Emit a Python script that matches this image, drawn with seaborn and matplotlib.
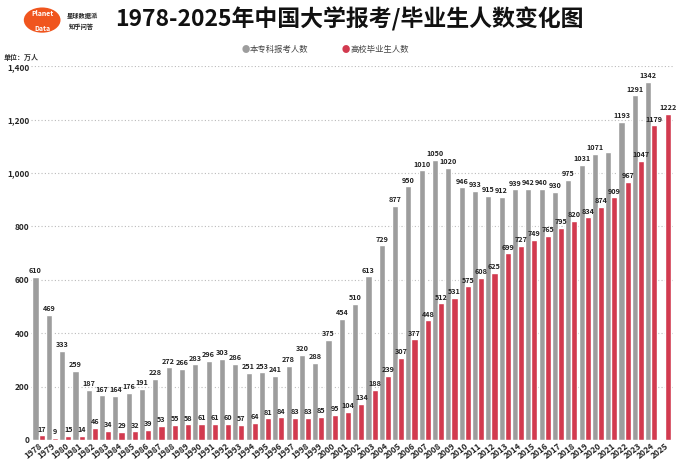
import matplotlib
matplotlib.use('Agg')
import matplotlib.pyplot as plt
import numpy as np
import pandas as pd
import seaborn as sns
from matplotlib.patches import Circle
from matplotlib.ticker import FuncFormatter

# データ
years = list(range(1978, 2026))
exam = [610, 469, 333, 259, 187, 167, 164, 176, 191, 228,
        272, 266, 283, 296, 303, 286, 251, 253, 241, 278,
        320, 288, 375, 454, 510, 613, 729, 877, 950, 1010,
        1050, 1020, 946, 933, 915, 912, 939, 942, 940, 930,
        975, 1031, 1071, 1078, 1193, 1291, 1342, np.nan]
grad = [17, 9, 15, 14, 46, 34, 29, 32, 39, 53,
        55, 58, 61, 61, 60, 57, 64, 81, 84, 83,
        83, 85, 95, 104, 134, 188, 239, 307, 377, 448,
        512, 531, 575, 608, 625, 699, 727, 749, 765, 795,
        820, 834, 874, 909, 967, 1047, 1179, 1222]
# 2021年の報考人数はラベル無し
exam_hidden = [2021]

s_exam = '本专科报考人数'
s_grad = '高校毕业生人数'
gray = '#9d9d9d'
red = '#d23a4f'

df = pd.DataFrame({
    'year': [str(y) for y in years] * 2,
    'value': exam + grad,
    'series': [s_exam] * len(years) + [s_grad] * len(years),
})
df['label'] = [('' if (pd.isna(v) or (s == s_exam and int(y) in exam_hidden)) else f'{int(v)}')
               for y, v, s in zip(df['year'], df['value'], df['series'])]
df = df.dropna(subset=['value'])

sns.set_theme(style='white')
plt.rcParams['font.family'] = ['Noto Sans CJK SC', 'DejaVu Sans']

fig = plt.figure(figsize=(6.8, 4.67), dpi=100)
ax = fig.add_axes([0.045, 0.058, 0.945, 0.80])

sns.barplot(data=df, x='year', y='value', hue='series',
            order=[str(y) for y in years], hue_order=[s_exam, s_grad],
            palette={s_exam: gray, s_grad: red}, width=0.92,
            saturation=1, legend=False, ax=ax)

# 数値ラベル
for cont, s in zip(ax.containers, [s_exam, s_grad]):
    labels = df.loc[df['series'] == s, 'label'].tolist()
    ax.bar_label(cont, labels=labels, fontsize=5.2, fontweight='bold',
                 color='#222222', padding=2)

ax.set_ylim(0, 1400)
ax.set_xlim(-0.6, len(years) - 0.35)
ax.set_yticks(range(0, 1401, 200))
ax.yaxis.set_major_formatter(FuncFormatter(lambda v, p: f'{int(v):,}'))
ax.grid(axis='y', linestyle=(0, (1, 2)), color='#bbbbbb', linewidth=0.8)
ax.set_axisbelow(True)
for sp in ax.spines.values():
    sp.set_visible(False)
ax.set_xlabel('')
ax.set_ylabel('')
ax.tick_params(axis='y', labelsize=6, pad=1, length=0)
ax.tick_params(axis='x', labelsize=6, pad=1, length=0)
for lab in ax.get_yticklabels():
    lab.set_fontweight('bold')
for lab in ax.get_xticklabels():
    lab.set_rotation(38)
    lab.set_ha('right')
    lab.set_rotation_mode('anchor')
    lab.set_fontweight('bold')

# 凡例
fig.text(0.355, 0.895, '●', color=gray, fontsize=6, ha='left', va='center')
fig.text(0.367, 0.895, s_exam, color='#444444', fontsize=6, ha='left', va='center')
fig.text(0.503, 0.895, '●', color=red, fontsize=6, ha='left', va='center')
fig.text(0.515, 0.895, s_grad, color='#444444', fontsize=6, ha='left', va='center')

# タイトル
fig.text(0.17, 0.958, '1978-2025年中国大学报考/毕业生人数变化图',
         fontsize=16.5, fontweight='bold', ha='left', va='center', color='#111111')

# ロゴ
logo = Circle((0.062, 0.957), 0.027, transform=fig.transFigure,
              facecolor='#f0551e', edgecolor='none')
fig.add_artist(logo)
fig.text(0.062, 0.972, 'Planet', color='white', fontsize=5, fontweight='bold',
         ha='center', va='center')
fig.text(0.062, 0.94, 'Data', color='white', fontsize=5, fontweight='bold',
         ha='center', va='center')
fig.text(0.098, 0.966, '星球数据派', fontsize=4.5, fontweight='bold', ha='left', va='center')
fig.text(0.101, 0.944, '知乎问答', fontsize=4.5, fontweight='bold', ha='left', va='center')

fig.text(0.006, 0.876, '单位：万人', fontsize=5, fontweight='bold', style='italic',
         ha='left', va='center', color='#333333')

plt.savefig('out.png', dpi=100)
